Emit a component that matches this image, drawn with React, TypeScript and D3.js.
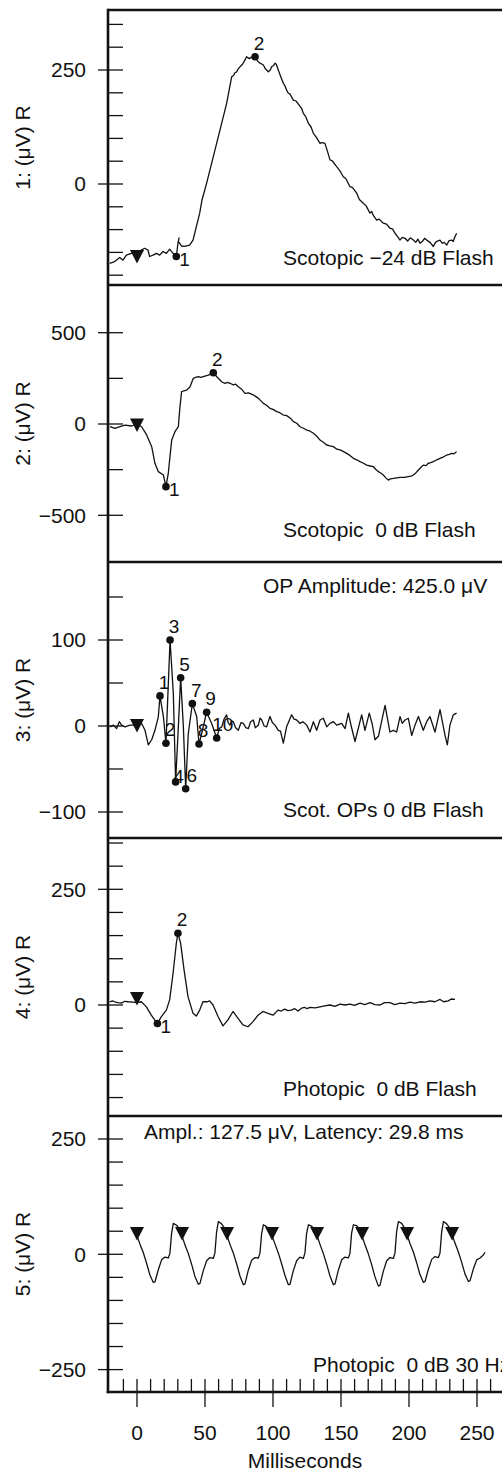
import React from 'react';
import * as d3 from 'd3';

type Pt = [number, number];
type Peak = { label: string; t: number; v: number; pos: string };

// ---------- DATA ----------
const xTickLabels = [0, 50, 100, 150, 200, 250];
const xMinorTicks = [-10, 0, 10, 20, 30, 40, 50, 60, 70, 80, 90, 100, 110, 120, 130, 140, 150, 160, 170, 180, 190, 200, 210, 220, 230, 240, 250, 260];

const panelTitles = ['1: (μV) R', '2: (μV) R', '3: (μV) R', '4: (μV) R', '5: (μV) R'];
const captions = ['Scotopic −24 dB Flash', 'Scotopic  0 dB Flash', 'Scot. OPs 0 dB Flash', 'Photopic  0 dB Flash', 'Photopic  0 dB 30 Hz'];
const opAmplitudeText = 'OP Amplitude: 425.0 μV';
const flickerText = 'Ampl.: 127.5 μV, Latency: 29.8 ms';

const yTicks1 = [-200, -150, -100, -50, 0, 50, 100, 150, 200, 250, 300, 350];
const yLabels1 = [0, 250];
const yTicks2 = [-500, -250, 0, 250, 500];
const yLabels2 = [-500, 0, 500];
const yTicks3 = [-100, -50, 0, 50, 100, 150];
const yLabels3 = [-100, 0, 100];
const yTicks4 = [-200, -150, -100, -50, 0, 50, 100, 150, 200, 250, 300, 350];
const yLabels4 = [0, 250];
const yTicks5 = [-250, -200, -150, -100, -50, 0, 50, 100, 150, 200, 250];
const yLabels5 = [-250, 0, 250];

const trace1: Pt[] = [[-20.1,-174],[-16.4,-170],[-12.7,-161],[-10.3,-167],[-7.8,-156],[-4.2,-152],[0,-151],[3.2,-145],[5.6,-141],[8.1,-145],[9.3,-159],[11.8,-156],[14.2,-152],[16.7,-156],[19.1,-148],[21.6,-152],[24.0,-143],[26.5,-152],[28.9,-159],[30.1,-130],[30.9,-118],[30.4,-126],[32.8,-136],[35.0,-137],[38.7,-134],[41.2,-123],[43.6,-94],[46.1,-64],[47.8,-35],[51.2,2],[56.1,60],[61.0,118],[65.9,177],[69.6,235],[71.0,238],[72.0,244],[73.3,246],[74.3,252],[75.7,257],[77.5,262],[79.0,270],[80.6,279],[82.5,275],[84.0,278],[85.5,276],[87.0,276],[89.2,268],[90.5,265],[92.9,261],[94.5,252],[96.6,246],[98.0,250],[99.0,257],[100.5,260],[101.5,265],[102.5,262],[103.9,250],[105.5,237],[107.6,221],[109.0,214],[110.0,206],[111.3,199],[112.5,197],[115.0,184],[117.0,182],[119.9,170],[121.0,166],[122.3,155],[124.0,148],[126.0,133],[128.0,125],[129.7,111],[131.5,104],[134.6,89],[136.0,91],[138.2,89],[140.0,72],[141.9,53],[143.5,51],[146.8,38],[149.0,30],[151.7,16],[153.5,12],[156.6,-6],[158.5,-8],[161.5,-20],[163.5,-34],[166.4,-42],[168.5,-48],[171.3,-64],[172.5,-60],[174.0,-70],[176.2,-79],[178.0,-77],[181.1,-86],[183.5,-88],[186.0,-97],[188.0,-99],[189.7,-108],[191.5,-115],[193.4,-123],[195.0,-117],[197.1,-119],[199.0,-125],[201.0,-118],[203.2,-123],[205.0,-128],[206.5,-121],[208.1,-130],[210.0,-125],[211.5,-119],[213.0,-123],[215.5,-128],[217.9,-137],[219.5,-128],[220.5,-126],[222.8,-123],[224.5,-130],[226.0,-128],[227.7,-134],[229.5,-124],[231.4,-123],[232.5,-126],[233.5,-118],[235.0,-108]];
const peaks1: Peak[] = [{ label: '1', t: 28.9, v: -159, pos: 'right' }, { label: '2', t: 86.8, v: 279, pos: 'above' }];
const triggers1: Pt[] = [[0, -160]];

const trace2: Pt[] = [[-19.9,-15],[-16.2,-24],[-12.5,-15],[-8.8,-6],[-3.9,-11],[-0.2,0],[3.4,-15],[7.1,-60],[10.8,-124],[13.2,-215],[15.7,-261],[19.4,-279],[21.3,-343],[23.0,-270],[25.5,-88],[27.9,-42],[30.4,-15],[31.6,95],[32.8,177],[34.5,182],[36.5,186],[38.0,196],[39.0,204],[41.4,250],[43.0,255],[45.1,259],[47.0,255],[48.8,259],[50.5,263],[52.5,268],[56.1,281],[58.5,260],[61.0,241],[62.5,230],[64.7,223],[66.5,228],[68.4,223],[70.8,214],[72.5,218],[74.5,204],[77.0,190],[79.4,168],[82.0,170],[85.5,159],[87.5,150],[89.2,141],[91.0,128],[92.9,113],[95.0,104],[97.8,86],[100.0,80],[102.7,68],[105.0,62],[107.6,49],[109.5,47],[111.3,40],[113.0,30],[115.0,13],[117.5,4],[119.9,-15],[122.0,-22],[124.8,-33],[127.0,-38],[129.7,-51],[132.0,-66],[134.6,-88],[137.0,-100],[139.5,-115],[142.0,-120],[144.4,-124],[147.0,-138],[149.3,-142],[151.5,-150],[154.2,-161],[156.5,-172],[159.1,-188],[161.5,-196],[164.0,-206],[166.5,-215],[168.9,-225],[171.5,-230],[173.8,-234],[175.5,-248],[177.5,-261],[179.5,-270],[181.1,-279],[183.0,-295],[184.8,-307],[186.5,-300],[188.5,-298],[191.0,-295],[193.4,-292],[196.5,-292],[199.5,-288],[201.5,-286],[203.2,-279],[205.0,-268],[206.9,-252],[208.5,-240],[210.5,-225],[212.5,-228],[214.2,-215],[216.0,-212],[217.9,-206],[220.5,-196],[222.8,-188],[225.0,-182],[227.7,-170],[229.5,-166],[231.4,-161],[233.0,-163],[235.0,-152]];
const peaks2: Peak[] = [{ label: '1', t: 21.3, v: -343, pos: 'right' }, { label: '2', t: 56.1, v: 281, pos: 'above' }];
const triggers2: Pt[] = [[0, -8]];

const trace3: Pt[] = [[-19.9,-1],[-17.4,1],[-15.0,-3],[-13.0,5],[-11.3,1],[-8.8,-1],[-5.1,1],[-0.2,1],[3.4,3],[5.9,-5],[8.3,-22],[10.8,-16],[13.2,-5],[15.7,11],[16.9,35],[19.4,11],[21.3,-20],[24.3,100],[26.7,38],[28.4,-65],[30.4,-1],[32.1,56],[34.1,-1],[35.8,-73],[37.7,-9],[40.7,26],[43.9,11],[45.6,-21],[47.5,-9],[51.2,16],[54.9,3],[58.6,-14],[60.5,-3],[62.3,-1],[64.0,8],[65.9,13],[67.0,4],[68.4,1],[69.5,6],[70.8,5],[72.5,-2],[74.5,-5],[76.5,4],[78.2,3],[80.0,-2],[81.9,-3],[83.5,5],[85.5,7],[87.0,-2],[89.2,1],[90.5,9],[91.7,7],[93.5,0],[95.3,-1],[96.5,5],[97.8,11],[99.5,4],[101.5,1],[103.9,-5],[105.5,-6],[107.6,-20],[110.0,-1],[113.7,13],[115.5,8],[117.4,7],[119.9,3],[122.0,5],[124.8,1],[127.2,-7],[129.7,5],[132.1,-5],[134.6,7],[137.0,9],[139.5,-1],[141.9,3],[144.4,5],[146.8,1],[150.5,3],[153.0,-3],[155.4,15],[157.5,0],[160.3,-18],[165.2,13],[167.6,-5],[170.8,15],[173.0,2],[175.0,-16],[177.5,-12],[182.4,24],[186.0,-7],[188.5,-5],[190.9,-7],[193.4,11],[195.0,3],[197.1,7],[199.5,9],[202.0,-11],[204.4,1],[206.9,11],[210.5,-5],[213.0,5],[215.4,11],[219.1,-7],[222.8,19],[226.5,-11],[228.2,-22],[230.1,1],[232.6,13],[235.0,15]];
const peaks3: Peak[] = [
  { label: '1', t: 16.9, v: 35, pos: 'above' },
  { label: '2', t: 21.3, v: -20, pos: 'above' },
  { label: '3', t: 24.3, v: 100, pos: 'above' },
  { label: '4', t: 28.4, v: -65, pos: 'near' },
  { label: '5', t: 32.1, v: 56, pos: 'above' },
  { label: '6', t: 35.8, v: -73, pos: 'aboveWide' },
  { label: '7', t: 40.7, v: 26, pos: 'above' },
  { label: '8', t: 45.6, v: -21, pos: 'above' },
  { label: '9', t: 51.2, v: 16, pos: 'above' },
  { label: '10', t: 58.6, v: -14, pos: 'aboveWide' },
];
const triggers3: Pt[] = [[0, 0]];

const trace4: Pt[] = [[-20.1,7],[-18.0,9],[-16.4,7],[-14.0,5],[-11.5,4],[-9.0,8],[-6.6,7],[-3.0,6],[-0.5,5],[3.2,7],[6.9,-4],[10.5,-22],[15.0,-40],[17.9,-25],[21.6,-11],[24.0,11],[26.5,68],[28.9,133],[30.1,155],[32.1,133],[34.6,76],[37.5,18],[41.2,-18],[43.6,-24],[46.1,-11],[48.5,7],[51.7,7],[53.4,9],[55.9,0],[59.6,-25],[63.2,-45],[66.9,-32],[70.6,-14],[74.3,-29],[77.9,-43],[81.6,-47],[85.3,-36],[89.0,-22],[92.6,-14],[96.3,-18],[100.0,-22],[103.7,-11],[106.0,-13],[108.6,-9],[111.0,-12],[113.5,-11],[116.0,-8],[118.4,-13],[121.0,-7],[123.3,-5],[125.0,-8],[127.2,-5],[131.0,-6],[134.6,-4],[138.0,-2],[141.9,0],[145.5,-3],[149.3,2],[153.0,0],[156.6,2],[160.0,-1],[164.0,4],[167.5,1],[171.3,5],[175.0,1],[178.7,0],[182.0,5],[186.0,5],[189.5,1],[193.4,4],[197.0,3],[200.7,6],[204.5,4],[208.1,7],[212.0,6],[215.4,9],[219.0,7],[222.8,12],[225.5,7],[228.9,9],[231.0,13],[233.8,12]];
const peaks4: Peak[] = [{ label: '1', t: 15.0, v: -40, pos: 'right' }, { label: '2', t: 30.1, v: 155, pos: 'above' }];
const triggers4: Pt[] = [[0, 13]];

const trace5: Pt[] = [
  [0.0,40],[2.2,22],[4.6,4],[7.1,-20],[9.5,-45],[12.0,-61],[13.2,-60],[15.6,-34],[18.1,-12],[20.5,-6],[23.0,-8],[24.2,2],[25.4,45],[26.7,67],[29.1,63],[31.6,54],
  [33.1,40],[35.3,20],[37.7,2],[40.2,-22],[42.6,-48],[45.1,-65],[46.3,-63],[48.7,-36],[51.2,-14],[53.6,-7],[56.1,-9],[57.3,3],[58.5,48],[59.8,71],[62.2,66],[64.7,55],
  [66.2,41],[68.4,21],[70.8,3],[73.3,-21],[75.7,-47],[78.2,-66],[79.4,-64],[81.8,-35],[84.3,-13],[86.7,-7],[89.2,-8],[90.4,2],[91.6,44],[92.9,64],[95.3,60],[97.8,52],
  [99.3,40],[101.5,22],[103.9,3],[106.4,-21],[108.8,-46],[111.3,-66],[112.5,-65],[114.9,-36],[117.4,-14],[119.8,-6],[122.3,-9],[123.5,3],[124.7,45],[126.0,64],[128.4,61],[130.9,53],
  [132.4,41],[134.6,21],[137.0,2],[139.5,-22],[141.9,-47],[144.4,-66],[145.6,-64],[148.0,-35],[150.5,-12],[152.9,-6],[155.4,-8],[156.6,2],[157.8,46],[159.1,64],[161.5,62],[164.0,54],
  [165.5,40],[167.7,20],[170.1,1],[172.6,-23],[175.0,-49],[177.5,-69],[178.7,-67],[181.1,-37],[183.6,-14],[186.0,-7],[188.5,-9],[189.7,3],[190.9,49],[192.2,71],[194.6,67],[197.1,55],
  [198.6,42],[200.8,23],[203.2,5],[205.7,-19],[208.1,-44],[210.6,-61],[211.8,-59],[214.2,-33],[216.7,-11],[219.1,-5],[221.6,-7],[222.8,3],[224.0,48],[225.3,71],[227.7,66],[230.2,56],
  [231.7,42],[233.9,24],[236.3,5],[238.8,-18],[241.2,-43],[243.7,-59],[244.9,-57],[247.3,-32],[249.8,-12],[252.2,-8],[254.5,-2],[255.9,4],
];
const peaks5: Peak[] = [];
const triggers5: Pt[] = [[0,44],[33.1,44],[66.2,44],[99.3,44],[132.4,44],[165.5,44],[198.6,44],[231.7,44]];

// ---------- LAYOUT ----------
const FONT = '"Liberation Sans", Arial, Helvetica, sans-serif';
const AXIS_X = 108;
const RIGHT = 520;
const X_AXIS_Y = 1392;

const x = d3.scaleLinear().domain([0, 250]).range([137, 477]);

const panels = [
  { top: 10, bottom: 285, dom: [0, 250], rng: [184, 70], ticks: yTicks1, labels: yLabels1, trace: trace1, peaks: peaks1, trig: triggers1, capX: 283, capY: 265 },
  { top: 285, bottom: 562, dom: [0, 500], rng: [424, 332.7], ticks: yTicks2, labels: yLabels2, trace: trace2, peaks: peaks2, trig: triggers2, capX: 283, capY: 537 },
  { top: 562, bottom: 838, dom: [0, 100], rng: [726, 640], ticks: yTicks3, labels: yLabels3, trace: trace3, peaks: peaks3, trig: triggers3, capX: 283, capY: 817 },
  { top: 838, bottom: 1116, dom: [0, 250], rng: [1005, 889.3], ticks: yTicks4, labels: yLabels4, trace: trace4, peaks: peaks4, trig: triggers4, capX: 283, capY: 1096 },
  { top: 1116, bottom: 1392, dom: [0, 250], rng: [1254.3, 1139], ticks: yTicks5, labels: yLabels5, trace: trace5, peaks: peaks5, trig: triggers5, capX: 313, capY: 1372 },
];

const fmt = (v: number) => (v < 0 ? '−' + Math.abs(v) : String(v));

function labelPos(p: Peak, cx: number, cy: number) {
  switch (p.pos) {
    case 'right': return { x: cx + 3, y: cy + 9, anchor: 'start' };
    case 'near': return { x: cx + 3, y: cy + 1, anchor: 'middle' };
    case 'aboveWide': return { x: cx + 6, y: cy - 7, anchor: 'middle' };
    default: return { x: cx + 4, y: cy - 7, anchor: 'middle' };
  }
}

export default function App() {
  return (
    <svg width={502} height={1473} style={{ position: 'absolute', left: 0, top: 0, background: '#fff' }} fontFamily={FONT}>
      <rect x={0} y={0} width={502} height={1473} fill="#fff" />
      {panels.map((p, i) => {
        const y = d3.scaleLinear().domain(p.dom).range(p.rng);
        const line = d3.line<Pt>().x(d => x(d[0])).y(d => y(d[1]));
        return (
          <g key={i}>
            {/* horizontal border at panel top */}
            <line x1={AXIS_X} x2={RIGHT} y1={p.top} y2={p.top} stroke="#111" strokeWidth={2.6} />
            {/* y ticks */}
            {p.ticks.map(t => (
              <line key={'t' + t} x1={p.labels.includes(t) ? AXIS_X - 10 : AXIS_X} x2={AXIS_X + 15} y1={y(t)} y2={y(t)} stroke="#111" strokeWidth={1.3} />
            ))}
            {p.labels.map(t => (
              <text key={'l' + t} x={86} y={y(t)} dy="0.35em" textAnchor="end" fontSize={21} fill="#111">{fmt(t)}</text>
            ))}
            <text transform={`translate(30,${(p.top + p.bottom) / 2}) rotate(-90)`} textAnchor="middle" fontSize={21} fill="#111">{panelTitles[i]}</text>
            <path d={line(p.trace) || ''} fill="none" stroke="#111" strokeWidth={1.3} strokeLinejoin="round" />
            {p.trig.map((d, k) => {
              const cx = x(d[0]), cy = y(d[1]);
              return <path key={'tr' + k} d={`M${cx - 7},${cy - 7}L${cx + 7},${cy - 7}L${cx},${cy + 6.5}Z`} fill="#111" />;
            })}
            {p.peaks.map((pk, k) => {
              const cx = x(pk.t), cy = y(pk.v);
              const lp = labelPos(pk, cx, cy);
              return (
                <g key={'pk' + k}>
                  <circle cx={cx} cy={cy} r={3.8} fill="#111" />
                  <text x={lp.x} y={lp.y} textAnchor={lp.anchor} fontSize={19} fill="#111">{pk.label}</text>
                </g>
              );
            })}
            <text x={p.capX} y={p.capY} fontSize={21} fill="#111" style={{ whiteSpace: 'pre' }}>{captions[i]}</text>
          </g>
        );
      })}
      <text x={263} y={593} fontSize={21} fill="#111">{opAmplitudeText}</text>
      <text x={144} y={1139} fontSize={21} fill="#111">{flickerText}</text>
      {/* left axis */}
      <line x1={AXIS_X} x2={AXIS_X} y1={8.7} y2={X_AXIS_Y + 1.3} stroke="#111" strokeWidth={2.6} />
      {/* x axis */}
      <line x1={AXIS_X - 1.3} x2={RIGHT} y1={X_AXIS_Y} y2={X_AXIS_Y} stroke="#111" strokeWidth={2.6} />
      {xMinorTicks.map(t => (
        <line key={'xm' + t} x1={x(t)} x2={x(t)} y1={X_AXIS_Y} y2={X_AXIS_Y - 13} stroke="#111" strokeWidth={1.3} />
      ))}
      {xTickLabels.map(t => (
        <g key={'xl' + t}>
          <line x1={x(t)} x2={x(t)} y1={X_AXIS_Y} y2={X_AXIS_Y + 15} stroke="#111" strokeWidth={1.3} />
          <text x={x(t)} y={1440} textAnchor="middle" fontSize={21} fill="#111">{t}</text>
        </g>
      ))}
      <text x={305} y={1468} textAnchor="middle" fontSize={21} fill="#111">Milliseconds</text>
    </svg>
  );
}
